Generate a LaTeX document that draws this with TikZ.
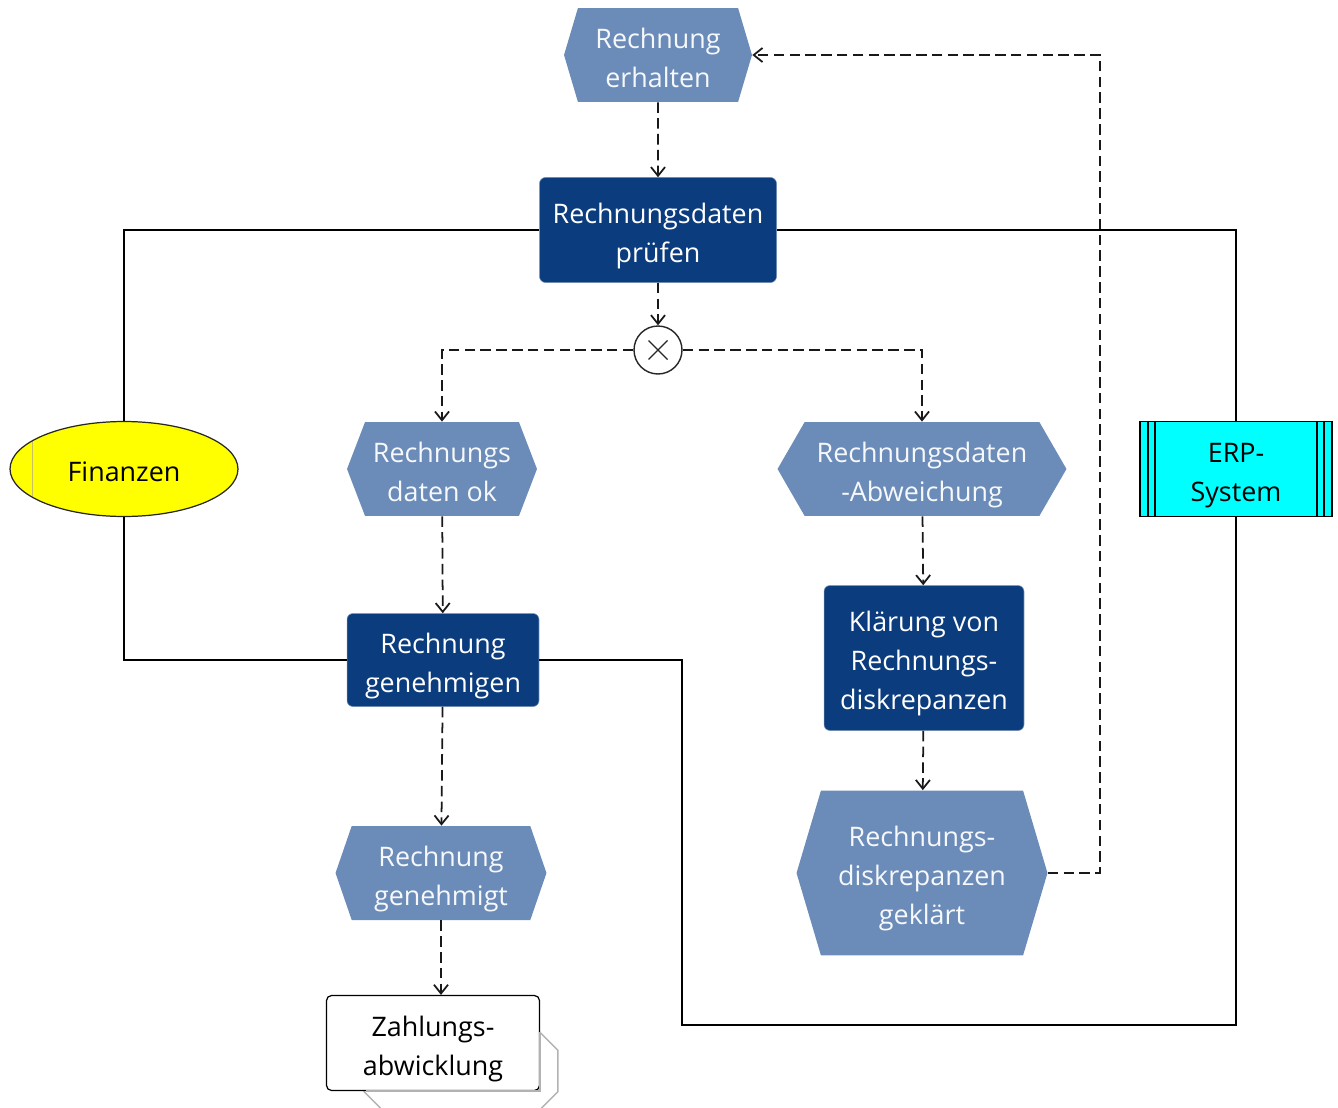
\documentclass[tikz,border=0pt]{standalone}
\usepackage{fontspec}
\setmainfont{Open Sans}
\usetikzlibrary{shapes.symbols,shapes.geometric,arrows.meta}

\definecolor{ereignisblau}{HTML}{6B8CB8}
\definecolor{funktionblau}{HTML}{0B3C7D}
\definecolor{erpcyan}{HTML}{00FFFF}
\definecolor{orggelb}{HTML}{FFFF00}
\newcommand{\epkschrift}{\fontsize{15.3}{22.2}\selectfont}
\newcommand{\epkoben}{\rule{0pt}{18.3pt}}
\newcommand{\epkunten}{\rule[-3.7pt]{0pt}{3.7pt}}

\begin{document}
\begin{tikzpicture}
      [x=0.02cm, y=-0.02cm,
      epktext/.style={align=center, inner sep=0pt, font=\epkschrift},
      ereignis/.style={signal, signal to=west and east, signal pointer angle=145,
        fill=ereignisblau, text=white!94!ereignisblau, epktext, minimum height=1.88cm},
      funktion/.style={rectangle, rounded corners=0.12cm, fill=funktionblau,
        draw=funktionblau!60!white, line width=0.3pt, text=white, epktext},
      xor/.style={circle, draw=black!85, line width=0.8pt, fill=white, minimum size=0.96cm,
        inner sep=0pt, path picture={
          \draw[line width=0.7pt] ([shift={(-0.19cm,-0.19cm)}]path picture bounding box.center)
            -- ([shift={(0.19cm,0.19cm)}]path picture bounding box.center);
          \draw[line width=0.7pt] ([shift={(-0.19cm,0.19cm)}]path picture bounding box.center)
            -- ([shift={(0.19cm,-0.19cm)}]path picture bounding box.center);}},
      organisation/.style={ellipse, draw=black!85, line width=0.7pt, fill=orggelb, epktext,
        minimum width=4.56cm, minimum height=1.9cm,
        path picture={\draw[olive!50, line width=0.4pt]
          ([xshift=0.44cm]path picture bounding box.north west)
          -- ([xshift=0.44cm]path picture bounding box.south west);}},
      anwendung/.style={rectangle, draw=black, line width=0.7pt, fill=erpcyan, epktext,
        minimum width=3.84cm, minimum height=1.9cm,
        path picture={
          \foreach \d in {0.16cm,0.3cm} {
            \draw[line width=0.9pt] ([xshift=\d]path picture bounding box.north west)
              -- ([xshift=\d]path picture bounding box.south west);
            \draw[line width=0.9pt] ([xshift=-\d]path picture bounding box.north east)
              -- ([xshift=-\d]path picture bounding box.south east);}}},
      schnittstelle/.style={rectangle, rounded corners=0.1cm, draw=black, line width=0.7pt,
        fill=white, epktext, minimum width=4.26cm, minimum height=1.9cm},
      schatten/.style={rectangle, minimum width=3.86cm, minimum height=1.54cm, inner sep=0pt},
      schattenlinie/.style={draw=black!30, line width=0.8pt},
      fluss/.style={draw=black!90, line width=1pt, dash pattern=on 6pt off 3pt,
        -{Straight Barb[length=5pt,width=8pt]}},
      linie/.style={draw=black, line width=0.8pt},
      ]
      \useasboundingbox (0,0) rectangle (1338,1108);

      % Ereignisse und Funktionen
      \node[ereignis, minimum width=3.76cm, signal pointer angle=147] (erhalten) at (658,55) {\epkoben Rechnung\\erhalten\epkunten};
      \node[funktion, minimum width=4.74cm, minimum height=2.1cm] (pruefen) at (658,230) {\epkoben Rechnungsdaten\\prüfen\epkunten};
      \node[xor] (xor) at (658,350) {};
      \node[ereignis, minimum width=3.8cm, signal pointer angle=138] (datenok) at (442,469) {\epkoben Rechnungs\\daten ok\epkunten};
      \node[ereignis, minimum width=5.78cm, signal pointer angle=120] (abweichung) at (922,469) {\epkoben Rechnungsdaten\\-Abweichung\epkunten};
      \node[funktion, minimum width=3.84cm, minimum height=1.86cm] (genehmigen) at (443,660) {\epkoben Rechnung\\genehmigen\epkunten};
      \node[funktion, minimum width=4cm, minimum height=2.9cm] (klaerung) at (924,658) {\epkoben Klärung von\\Rechnungs-\\diskrepanzen\epkunten};
      \node[ereignis, minimum width=5.02cm, minimum height=3.3cm, signal pointer angle=147] (geklaert) at (922,873) {\epkoben Rechnungs-\\diskrepanzen\\geklärt\epkunten};
      \node[ereignis, minimum width=4.22cm, signal pointer angle=142] (genehmigt) at (441,873) {\epkoben Rechnung\\genehmigt\epkunten};

      % Prozessschnittstelle
      \node[schatten] (zahlungschatten) at (461,1071) {};
      \draw[schattenlinie, fill=white] ([xshift=-0.36cm]zahlungschatten.north east)
        -- ([yshift=-0.36cm]zahlungschatten.north east) -- ([yshift=0.36cm]zahlungschatten.south east)
        -- ([xshift=-0.36cm]zahlungschatten.south east) -- ([xshift=0.36cm]zahlungschatten.south west)
        -- ([yshift=0.36cm]zahlungschatten.south west) -- ([yshift=-0.36cm]zahlungschatten.north west)
        -- ([xshift=0.36cm]zahlungschatten.north west) -- cycle;
      \node[schnittstelle] (zahlung) at (433,1043) {\epkoben Zahlungs-\\abwicklung\epkunten};
      \draw[schattenlinie] (zahlung.east |- zahlungschatten.north) -- (zahlung.south east)
        -- ([xshift=0.04cm]zahlungschatten.west |- zahlung.south);

      % Organisation und Anwendung
      \node[organisation] (finanzen) at (124,469) {\epkoben Finanzen\epkunten};
      \node[anwendung] (erp) at (1236,469) {\epkoben ERP-\\System\epkunten};

      \coordinate (knick) at (682,1025);
      \coordinate (rueck) at (1100,873);

      \draw[linie] (finanzen.north) |- (pruefen.west);
      \draw[linie] (finanzen.south) |- (genehmigen.west);
      \draw[linie] (erp.north) |- (pruefen.east);
      \draw[linie] (erp.south) |- (knick) |- (genehmigen.east);

      % Kontrollfluss
      \draw[fluss] (erhalten) -- (pruefen);
      \draw[fluss] (pruefen) -- (xor);
      \draw[fluss] (xor.west) -| (datenok.north);
      \draw[fluss] (xor.east) -| (abweichung.north);
      \draw[fluss] (datenok) -- (genehmigen);
      \draw[fluss] (abweichung) -- (klaerung);
      \draw[fluss] (klaerung) -- (geklaert);
      \draw[fluss] (genehmigen) -- (genehmigt);
      \draw[fluss] (genehmigt.south) -- (genehmigt.south |- zahlung.north);
      \draw[fluss] (geklaert.east) -- (rueck) |- (erhalten.east);
\end{tikzpicture}
\end{document}
